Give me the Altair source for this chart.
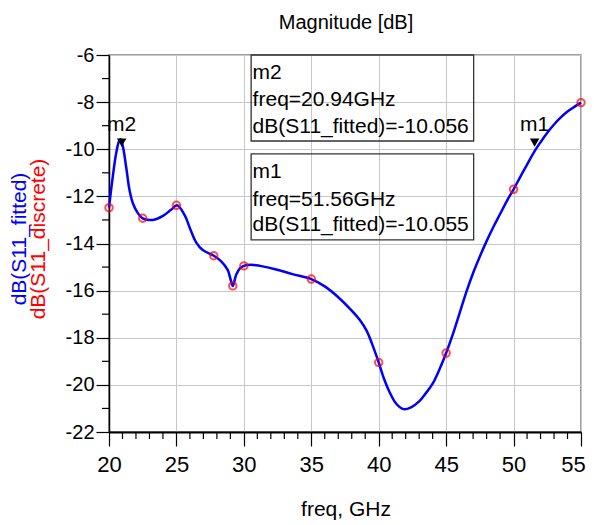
import altair as alt
import pandas as pd

# ---- data ----
fit_freq = [20.0, 20.28, 20.53, 20.73, 20.85, 21.03, 21.27, 21.52, 21.77, 22.14, 22.5, 23.25,
            24.0, 24.6, 25.05, 25.6, 26.0, 26.46, 26.95, 27.77, 28.32, 28.8, 29.05, 29.18,
            29.43, 29.72, 30.0, 30.5, 31.2, 32.4, 33.6, 35.0, 36.0, 37.0, 38.0, 38.6, 39.1,
            39.5, 40.0, 40.4, 40.8, 41.3, 41.85, 42.4, 43.0, 43.5, 44.0, 44.5, 45.0, 45.5,
            46.0, 46.5, 47.0, 47.5, 48.0, 48.5, 49.0, 49.5, 50.0, 50.5, 51.0, 51.56, 52.0,
            52.5, 53.0, 53.5, 54.0, 54.5, 55.0]
fit_db = [-12.48, -11.16, -10.17, -9.68, -9.58, -9.89, -10.74, -11.73, -12.29, -12.71, -12.93, -13.0,
          -12.83, -12.57, -12.38, -12.79, -13.35, -13.95, -14.28, -14.52, -14.76, -15.12, -15.6, -15.8,
          -15.33, -15.05, -14.95, -14.9, -14.95, -15.1, -15.3, -15.51, -15.82, -16.28, -16.85, -17.25, -17.7,
          -18.25, -19.05, -19.75, -20.3, -20.8, -21.03, -20.95, -20.7, -20.35, -19.95, -19.35, -18.65, -17.85,
          -16.95, -16.05, -15.25, -14.55, -13.9, -13.3, -12.75, -12.2, -11.7, -11.17, -10.65, -10.08, -9.7,
          -9.3, -8.95, -8.65, -8.4, -8.2, -8.02]

disc_freq = [20.0, 22.5, 25.0, 27.77, 29.18, 30.0, 35.0, 40.0, 45.0, 50.0, 55.0]
disc_db = [-12.48, -12.93, -12.38, -14.52, -15.8, -14.95, -15.51, -19.05, -18.65, -11.7, -8.02]

marker_names = ["m2", "m1"]
marker_freq = [20.94, 51.56]
marker_val = [-10.056, -10.055]

# marker readout boxes (data coordinates)
box_x1 = [30.54, 30.54]
box_x2 = [47.04, 47.04]
box_y1 = [-6.0, -10.2]
box_y2 = [-9.65, -13.85]

box_lines = ["m2", "freq=20.94GHz", "dB(S11_fitted)=-10.056",
             "m1", "freq=51.56GHz", "dB(S11_fitted)=-10.055"]
box_line_y = [-7.03, -8.16, -9.30, -11.23, -12.39, -13.49]
box_text_x = 30.65

x_major = [20, 25, 30, 35, 40, 45, 50, 55]
x_minor = [v for v in range(20, 56) if v % 5 != 0]
y_major = [-6, -8, -10, -12, -14, -16, -18, -20, -22]
y_minor = [-7, -9, -11, -13, -15, -17, -19, -21]

chart_title = "Magnitude [dB]"
x_title = "freq, GHz"
y_title_fit = "dB(S11_fitted)"
y_title_disc = "dB(S11_discrete)"

FONT = "Liberation Sans"
W, H = 472, 377

fit = pd.DataFrame({"freq": fit_freq, "db": fit_db})
disc = pd.DataFrame({"freq": disc_freq, "db": disc_db})
mk = pd.DataFrame({"name": marker_names, "freq": marker_freq, "db": marker_val})
boxes = pd.DataFrame({"x1": box_x1, "x2": box_x2, "y1": box_y1, "y2": box_y2})
btext = pd.DataFrame({"t": box_lines, "y": box_line_y, "x": [box_text_x] * len(box_lines)})
xmin_df = pd.DataFrame({"freq": x_minor})
ymin_df = pd.DataFrame({"db": y_minor})

xs = alt.Scale(domain=[20, 55], nice=False, zero=False)
ys = alt.Scale(domain=[-22, -6], nice=False, zero=False)

x_axis = alt.Axis(values=x_major, tickSize=14, tickColor="black", tickWidth=1.2,
                  labelFontSize=22, labelPadding=8, labelFont=FONT, labelColor="black",
                  labelFlush=False, labelOverlap=False, labelExpr="datum.value + ''",
                  labelOffset={"condition": {"test": "datum.value == 55", "value": -8}, "value": 0},
                  grid=True, gridColor="#c8c8c8", gridWidth=1,
                  domainColor="black", domainWidth=1.8, title=None)
y_axis = alt.Axis(values=y_major, tickSize=13, tickColor="black", tickWidth=1.2,
                  labelFontSize=20, labelPadding=2, labelFont=FONT, labelColor="black",
                  labelFlush=False, labelOverlap=False, labelExpr="datum.value + ''",
                  grid=True, gridColor="#c8c8c8", gridWidth=1,
                  domainColor="black", domainWidth=1.5, title=None)


def X(field):
    return alt.X(field, scale=xs, axis=x_axis)


def Y(field):
    return alt.Y(field, scale=ys, axis=y_axis)


line = alt.Chart(fit).mark_line(color="#0000ff", strokeWidth=2.5, interpolate="catmull-rom").encode(
    x=X("freq:Q"), y=Y("db:Q"),
)

pts = alt.Chart(disc).mark_point(shape="circle", size=55, color="#ff0000", strokeWidth=2,
                                 filled=False).encode(
    x=X("freq:Q"), y=Y("db:Q"),
)

rects = alt.Chart(boxes).mark_rect(fill=None, stroke="#333333", strokeWidth=1.3).encode(
    x=X("x1:Q"), x2="x2:Q", y=Y("y1:Q"), y2="y2:Q",
)

btxt = alt.Chart(btext).mark_text(align="left", baseline="alphabetic", fontSize=21,
                                  font=FONT, color="black").encode(
    x=X("x:Q"), y=Y("y:Q"), text="t:N",
)

tri = alt.Chart(mk).mark_point(shape="triangle-down", size=90, filled=True, color="black",
                               opacity=1, yOffset=-8).encode(
    x=X("freq:Q"), y=Y("db:Q"),
)

mlabel = alt.Chart(mk).mark_text(align="center", baseline="alphabetic", fontSize=21, dy=-20,
                                 font=FONT, color="black").encode(
    x=X("freq:Q"), y=Y("db:Q"), text="name:N",
)

xminor = alt.Chart(xmin_df).mark_rule(color="black", strokeWidth=1.2).encode(
    x=X("freq:Q"), y=alt.value(H), y2=alt.value(H + 7),
)
yminor = alt.Chart(ymin_df).mark_rule(color="black", strokeWidth=1.2).encode(
    y=Y("db:Q"), x=alt.value(-7), x2=alt.value(0),
)


def label(text, x, y, size, color="black", angle=0, baseline="alphabetic"):
    return alt.Chart(pd.DataFrame({"t": [text]})).mark_text(
        align="center", baseline=baseline, fontSize=size, font=FONT,
        color=color, angle=angle).encode(x=alt.value(x), y=alt.value(y), text="t:N")


title_t = label(chart_title, W / 2 + 1, -26, 20)
xtitle_t = label(x_title, W / 2 + 1, 461, 21)
yt_fit = label(y_title_fit, -89, 184, 21, color="#0000ff", angle=270, baseline="middle")
yt_disc = label(y_title_disc, -70, 184, 21, color="#ff0000", angle=270, baseline="middle")

chart = alt.layer(line, rects, btxt, pts, tri, mlabel, xminor, yminor,
                  title_t, xtitle_t, yt_fit, yt_disc).properties(
    width=W, height=H,
    autosize=alt.AutoSizeParams(type="none"),
    padding={"left": 101, "top": 47, "right": 5, "bottom": 89},
).configure_view(stroke="#808080", strokeWidth=1.5)

chart.save("out.html", embed_options={"renderer": "svg", "actions": False})
